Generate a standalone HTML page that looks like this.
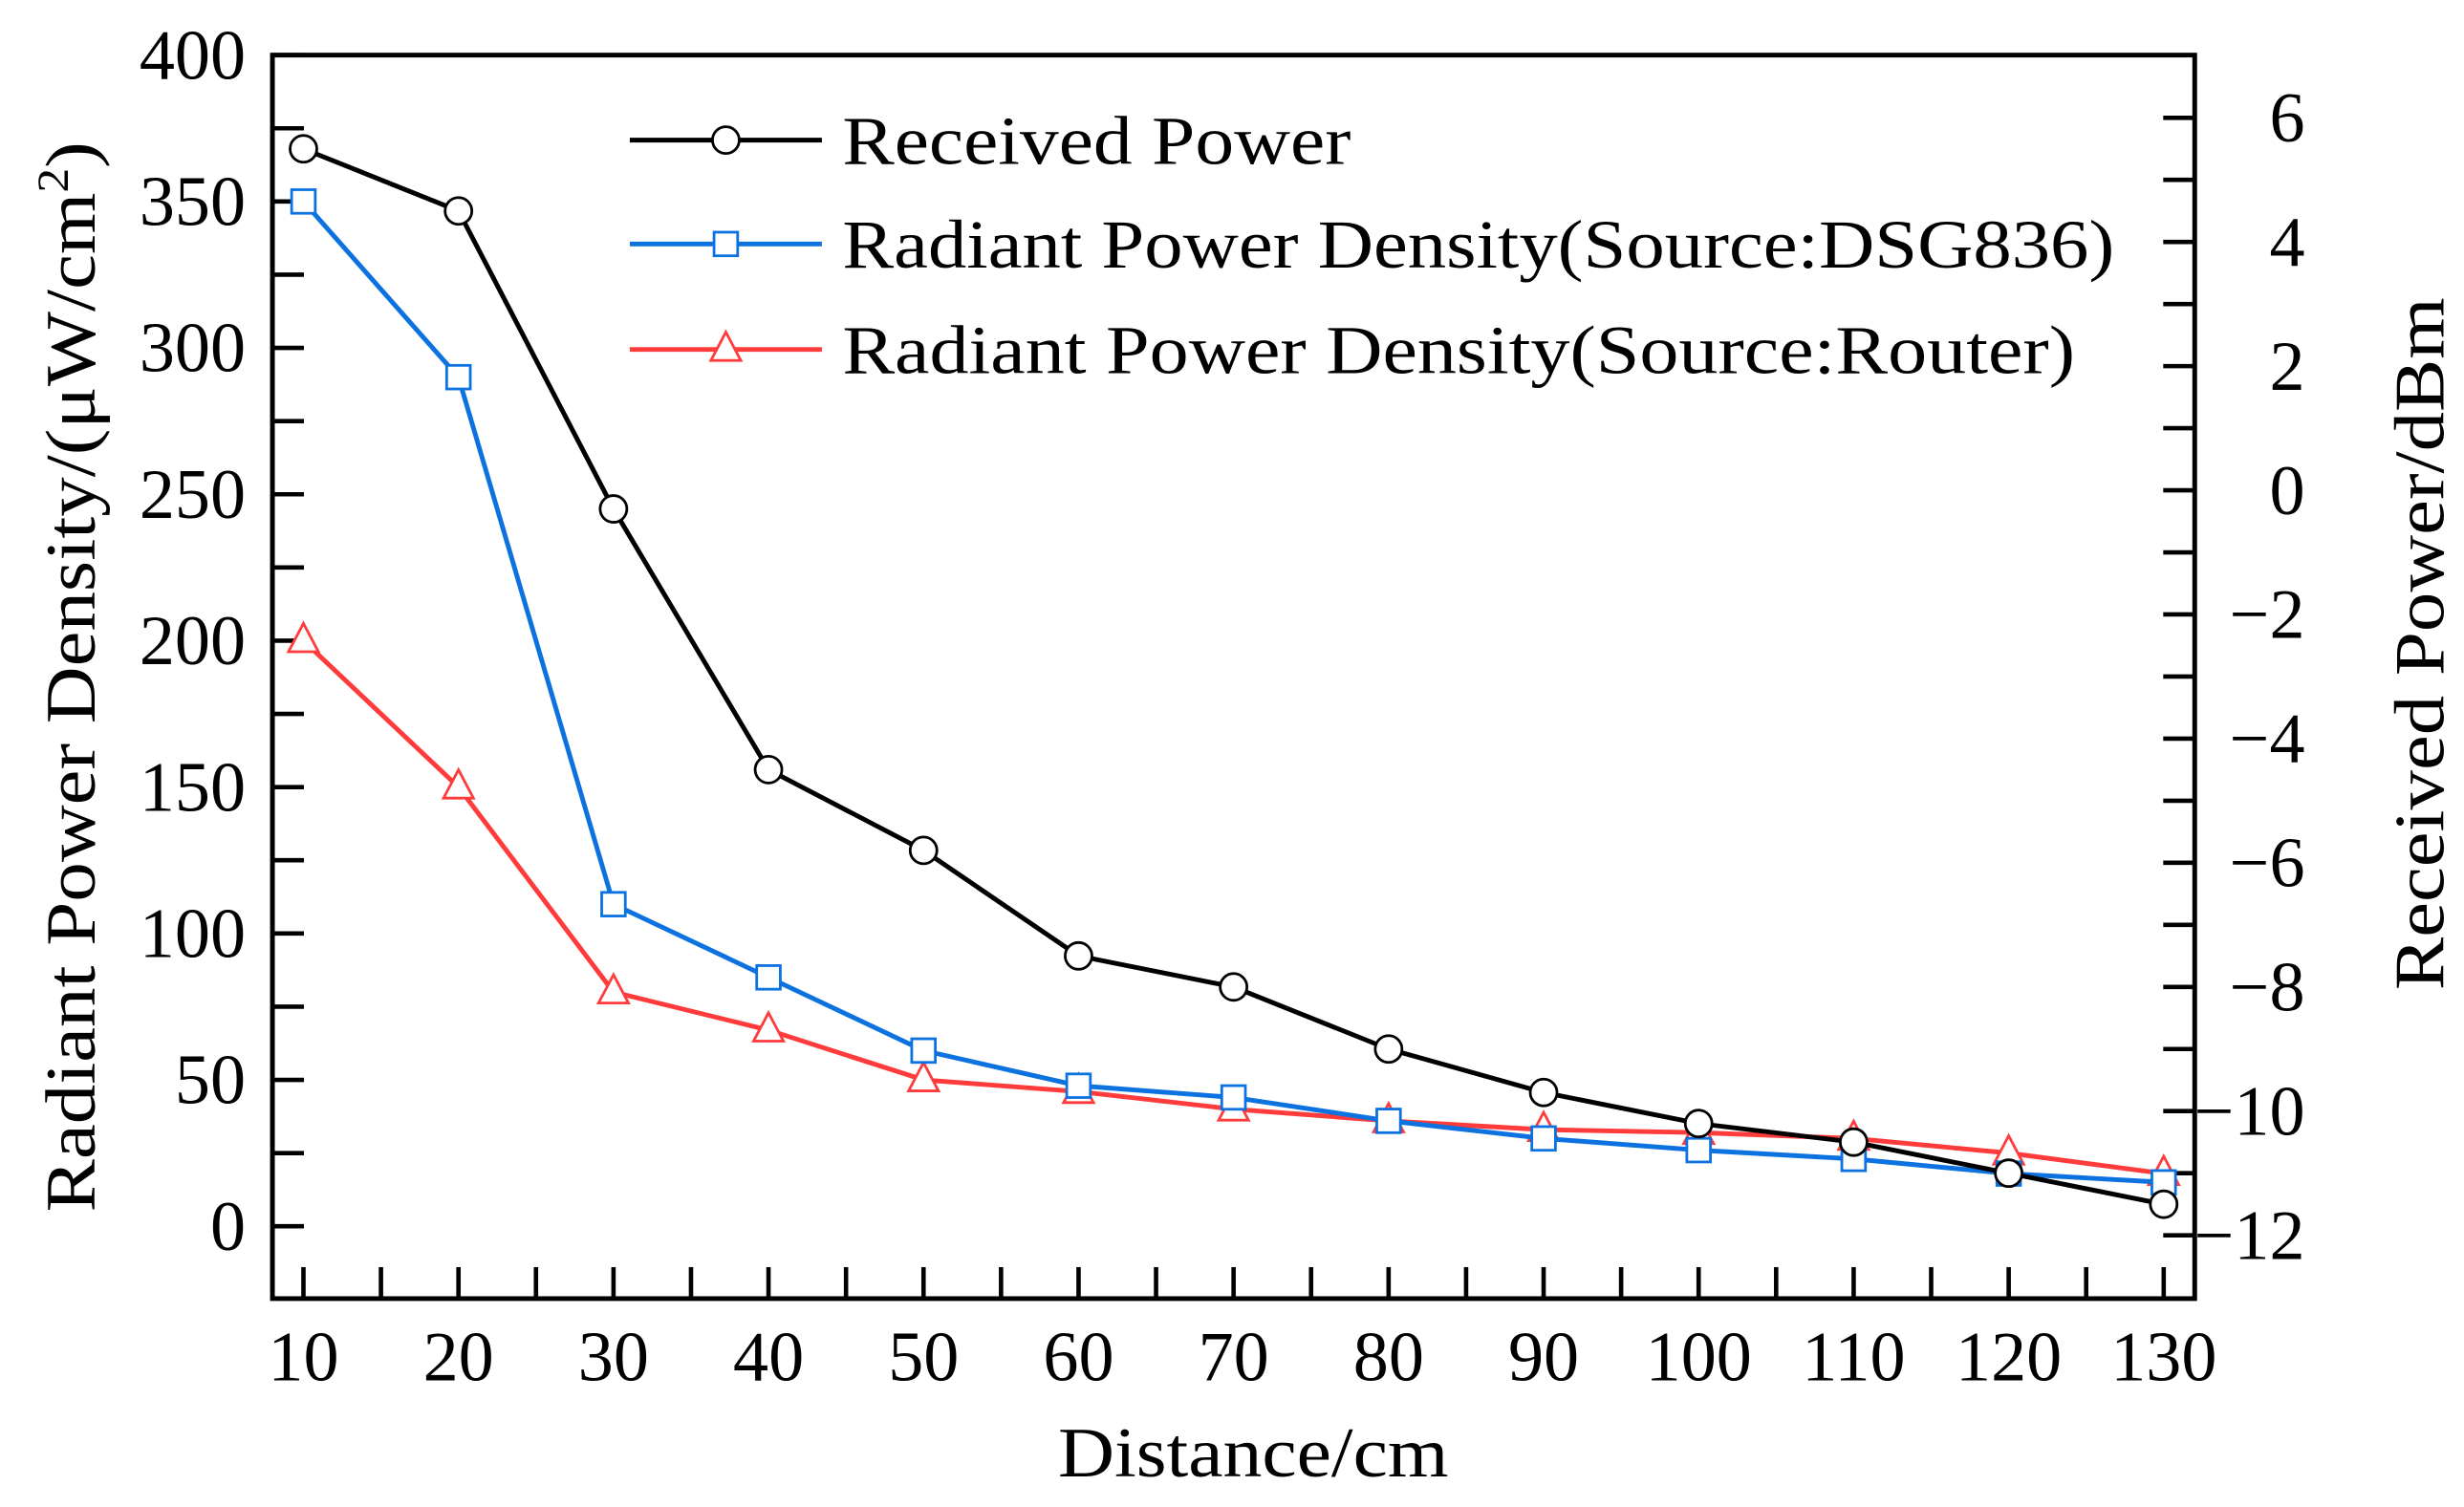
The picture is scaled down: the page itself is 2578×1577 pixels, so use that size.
<!DOCTYPE html>
<html><head><meta charset="utf-8"><style>
html,body{margin:0;padding:0;background:#fff;}
svg{display:block;font-family:"Liberation Serif",serif;}
</style></head><body>
<svg id="chart" width="2578" height="1577" viewBox="0 0 1565 957.4" xmlns="http://www.w3.org/2000/svg">
</svg>
<script>
const distances = [10,20,30,40,50,60,70,80,90,100,110,120,130];
const receivedPower = [5.5,4.5,-0.3,-4.5,-5.8,-7.5,-8.0,-9.0,-9.7,-10.2,-10.5,-11.0,-11.5];
const densityDSG = [350,290,110,85,60,48,44,36,30,26,23,18,15];
const densityRouter = [200,150,80,67,50,46,40,36,33,32,30,25,18];
const xTicks = [10,20,30,40,50,60,70,80,90,100,110,120,130];
const leftTicks = [0,50,100,150,200,250,300,350,400];
const rightTicks = [-12,-10,-8,-6,-4,-2,0,2,4,6];

const L=173,R=1394,T=35,B=825;
const xMin=8,xMax=132,lMin=-24.7,lMax=400,rMin=-13.02,rMax=7.01;
const X=v=>L+(v-xMin)/(xMax-xMin)*(R-L);
const YL=v=>B-(v-lMin)/(lMax-lMin)*(B-T);
const YR=v=>B-(v-rMin)/(rMax-rMin)*(B-T);
const svg=document.getElementById('chart');
const NS='http://www.w3.org/2000/svg';
function mk(tag,attrs,parent){const e=document.createElementNS(NS,tag);for(const k in attrs)e.setAttribute(k,attrs[k]);(parent||svg).appendChild(e);return e;}

const ticks=mk('g',{});


for(let v=10;v<=130;v+=5){mk('line',{x1:X(v),x2:X(v),y1:B,y2:B-20,stroke:'#000','stroke-width':2.8},ticks);}
for(let v=0;v<=400;v+=25){mk('line',{x1:L,x2:L+20,y1:YL(v),y2:YL(v),stroke:'#000','stroke-width':2.8},ticks);}
for(let v=-12;v<=6;v+=1){mk('line',{x1:R,x2:R-20,y1:YR(v),y2:YR(v),stroke:'#000','stroke-width':2.8},ticks);}

xTicks.forEach(v=>{const t=mk('text',{x:X(v),y:877,'font-size':45,'text-anchor':'middle'});t.textContent=v;

});
leftTicks.forEach(v=>{const t=mk('text',{x:156,y:YL(v)+15,'font-size':45,'text-anchor':'end'});t.textContent=v;

});
rightTicks.forEach(v=>{const t=mk('text',{x:1464,y:YR(v)+15,'font-size':45,'text-anchor':'end'});t.textContent=v<0?'\u2212'+Math.abs(v):String(v);

});

function series(vals,yf,color,marker,name){
  const g=mk('g',{});
  
  
  const pts=vals.map((v,i)=>[X(distances[i]),yf(v)]);
  mk('polyline',{points:pts.map(p=>p.join(',')).join(' '),fill:'none',stroke:color,'stroke-width':3,'stroke-linejoin':'round'},g);
  pts.forEach(p=>{const m=drawMarker(p[0],p[1],marker,color,g);
    
    });
}
function drawMarker(x,y,type,color,g){
  if(type==='circle')return mk('circle',{cx:x,cy:y,r:8.5,fill:'#fff',stroke:'#000','stroke-width':1.7},g);
  if(type==='square')return mk('rect',{x:x-7.5,y:y-7.5,width:15,height:15,fill:'#fff',stroke:color,'stroke-width':1.7},g);
  return mk('polygon',{points:`${x},${y-11} ${x-9.5},${y+7} ${x+9.5},${y+7}`,fill:'#fff',stroke:color,'stroke-width':1.7},g);
}
series(densityRouter,YL,'#ff3b3b','tri','router-density-series');
series(densityDSG,YL,'#0b72e0','square','dsg836-density-series');
series(receivedPower,YR,'#000','circle','received-power-series');

const fr=mk('rect',{x:L,y:T,width:R-L,height:B-T,fill:'none',stroke:'#000','stroke-width':3});



const legend=[['Received Power','#000','circle',89,323],['Radiant Power Density(Source:DSG836)','#0b72e0','square',155,808],['Radiant Power Density(Source:Router)','#ff3b3b','tri',222,783]];
legend.forEach(l=>{
  const g=mk('g',{});
  
  
  mk('line',{x1:400,x2:522,y1:l[3],y2:l[3],stroke:l[1],'stroke-width':3},g);
  drawMarker(461,l[3],l[2],l[1],g);
  const t=mk('text',{x:535,y:l[3]+15,'font-size':44,textLength:l[4],lengthAdjust:'spacingAndGlyphs'},g);t.textContent=l[0];
});
</script>
<svg style="position:absolute;left:0;top:0" width="2578" height="1577" viewBox="0 0 1565 957.4" xmlns="http://www.w3.org/2000/svg" font-family="Liberation Serif, serif">
<text x="796" y="938" font-size="45" text-anchor="middle" textLength="248" lengthAdjust="spacingAndGlyphs">Distance/cm</text>
<text transform="translate(60,430) rotate(-90)" font-size="45" text-anchor="middle" textLength="680" lengthAdjust="spacingAndGlyphs">Radiant Power Density/(μW/cm<tspan font-size="28" dy="-17">2</tspan><tspan dy="17">)</tspan></text>
<text transform="translate(1552,409) rotate(-90)" font-size="45" text-anchor="middle" textLength="440" lengthAdjust="spacingAndGlyphs">Received Power/dBm</text>
</svg>
</body></html>
